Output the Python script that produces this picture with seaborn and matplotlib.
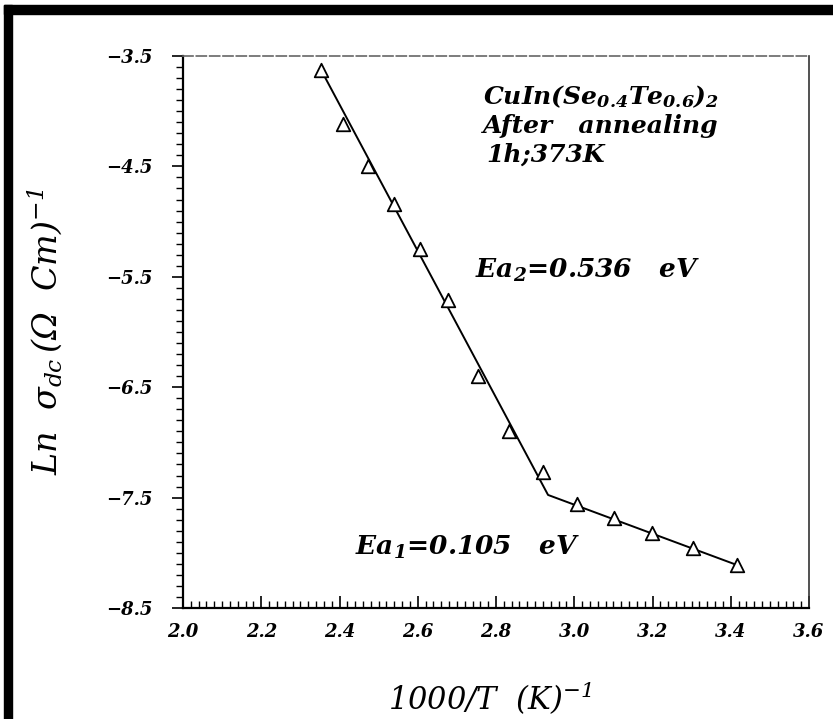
import numpy as np
import pandas as pd
import matplotlib
matplotlib.use("Agg")
import matplotlib.pyplot as plt
import seaborn as sns
from matplotlib.patches import Rectangle
from matplotlib.ticker import MultipleLocator

# measured points, ln sigma_dc vs 1000/T
inv_t = [2.353, 2.409, 2.473, 2.539, 2.606, 2.677, 2.754, 2.833, 2.920,
         3.007, 3.102, 3.199, 3.304, 3.416]
ln_sigma = [-3.627, -4.116, -4.496, -4.841, -5.248, -5.710, -6.399, -6.897,
            -7.268, -7.558, -7.685, -7.821, -7.957, -8.111]

# two-segment fit line (Ea2 branch, knee, Ea1 branch)
fit_x = [2.353, 2.933, 3.416]
fit_y = [-3.627, -7.476, -8.111]

x_ticks = [2.0, 2.2, 2.4, 2.6, 2.8, 3.0, 3.2, 3.4, 3.6]
y_ticks = [-3.5, -4.5, -5.5, -6.5, -7.5, -8.5]

sns.set_theme(style="white")
plt.rcParams['font.family'] = ['DejaVu Serif', 'DejaVu Sans']
plt.rcParams['text.color'] = 'black'
plt.rcParams['axes.labelcolor'] = 'black'
plt.rcParams['xtick.color'] = 'black'
plt.rcParams['ytick.color'] = 'black'
plt.rcParams['mathtext.fontset'] = 'custom'
plt.rcParams['mathtext.rm'] = 'DejaVu Serif:italic'
plt.rcParams['mathtext.it'] = 'DejaVu Serif:italic'
plt.rcParams['mathtext.bf'] = 'DejaVu Serif:italic:bold'

df = pd.DataFrame({'x': inv_t, 'y': ln_sigma})
fit = pd.DataFrame({'x': fit_x, 'y': fit_y})

fig = plt.figure(figsize=(8.33, 7.19), dpi=100)
ax = fig.add_axes([0.2197, 0.1544, 0.7515, 0.7677])

sns.lineplot(data=fit, x='x', y='y', ax=ax, color='black', lw=1.4,
             sort=False, estimator=None)
sns.scatterplot(data=df, x='x', y='y', ax=ax, marker='^', s=95,
                facecolor='white', edgecolor='black', linewidth=1.3, zorder=3)

ax.set_xlim(2.0, 3.6)
ax.set_ylim(-8.5, -3.5)
ax.set_xticks(x_ticks)
ax.set_yticks(y_ticks)
ax.xaxis.set_minor_locator(MultipleLocator(0.02))
ax.yaxis.set_minor_locator(MultipleLocator(0.1))
ax.set_xticklabels([f"{v:.1f}" for v in x_ticks])
ax.set_yticklabels([f"\u2212{abs(v):.1f}" for v in y_ticks])

for lab in ax.get_xticklabels() + ax.get_yticklabels():
    lab.set_fontweight('bold')
    lab.set_fontstyle('italic')
    lab.set_fontsize(13)

ax.tick_params(axis='x', which='major', direction='in', length=9, width=1.2,
               bottom=True, top=False, pad=11)
ax.tick_params(axis='x', which='minor', direction='in', length=5, width=1.0,
               bottom=True, top=False)
ax.tick_params(axis='y', which='major', direction='out', length=8, width=1.2,
               left=True, right=False, pad=14)
ax.tick_params(axis='y', which='minor', direction='out', length=5, width=1.0,
               left=True, right=False)

for side in ['left', 'bottom']:
    ax.spines[side].set_color('black')
    ax.spines[side].set_linewidth(1.6)
ax.spines['right'].set_color('#333333')
ax.spines['right'].set_linewidth(1.2)
ax.spines['top'].set_color('#666666')
ax.spines['top'].set_linewidth(1.2)
ax.spines['top'].set_linestyle((0, (6, 2)))

ax.set_xlabel(r"$1000/T\ \ (K)^{-1}$", fontsize=22)
ax.set_ylabel(r"$Ln\ \ \sigma_{dc}\,(\Omega\ \ Cm)^{-1}$", fontsize=24)
ax.xaxis.set_label_coords(0.49, -0.13)
ax.yaxis.set_label_coords(-0.19, 0.5)

txt = dict(transform=ax.transAxes, fontsize=18, fontweight='bold',
           fontstyle='italic', va='center', ha='left')
ax.text(0.479, 0.926, r"CuIn(Se$_{\mathbf{0.4}}$Te$_{\mathbf{0.6}}$)$_{\mathbf{2}}$", **txt)
ax.text(0.479, 0.873, "After   annealing", **txt)
ax.text(0.485, 0.822, "1h;373K", **txt)
txt['fontsize'] = 19
ax.text(0.466, 0.612, r"Ea$_{\mathbf{2}}$=0.536   eV", **txt)
ax.text(0.275, 0.109, r"Ea$_{\mathbf{1}}$=0.105   eV", **txt)

# black scan frame along the top and left edges
fig.patches.append(Rectangle((0.0048, 0.9805), 0.9952, 0.0125,
                             transform=fig.transFigure, color='black', zorder=10))
fig.patches.append(Rectangle((0.0048, 0.0), 0.0096, 0.993,
                             transform=fig.transFigure, color='black', zorder=10))

fig.savefig('out.png', dpi=100)
